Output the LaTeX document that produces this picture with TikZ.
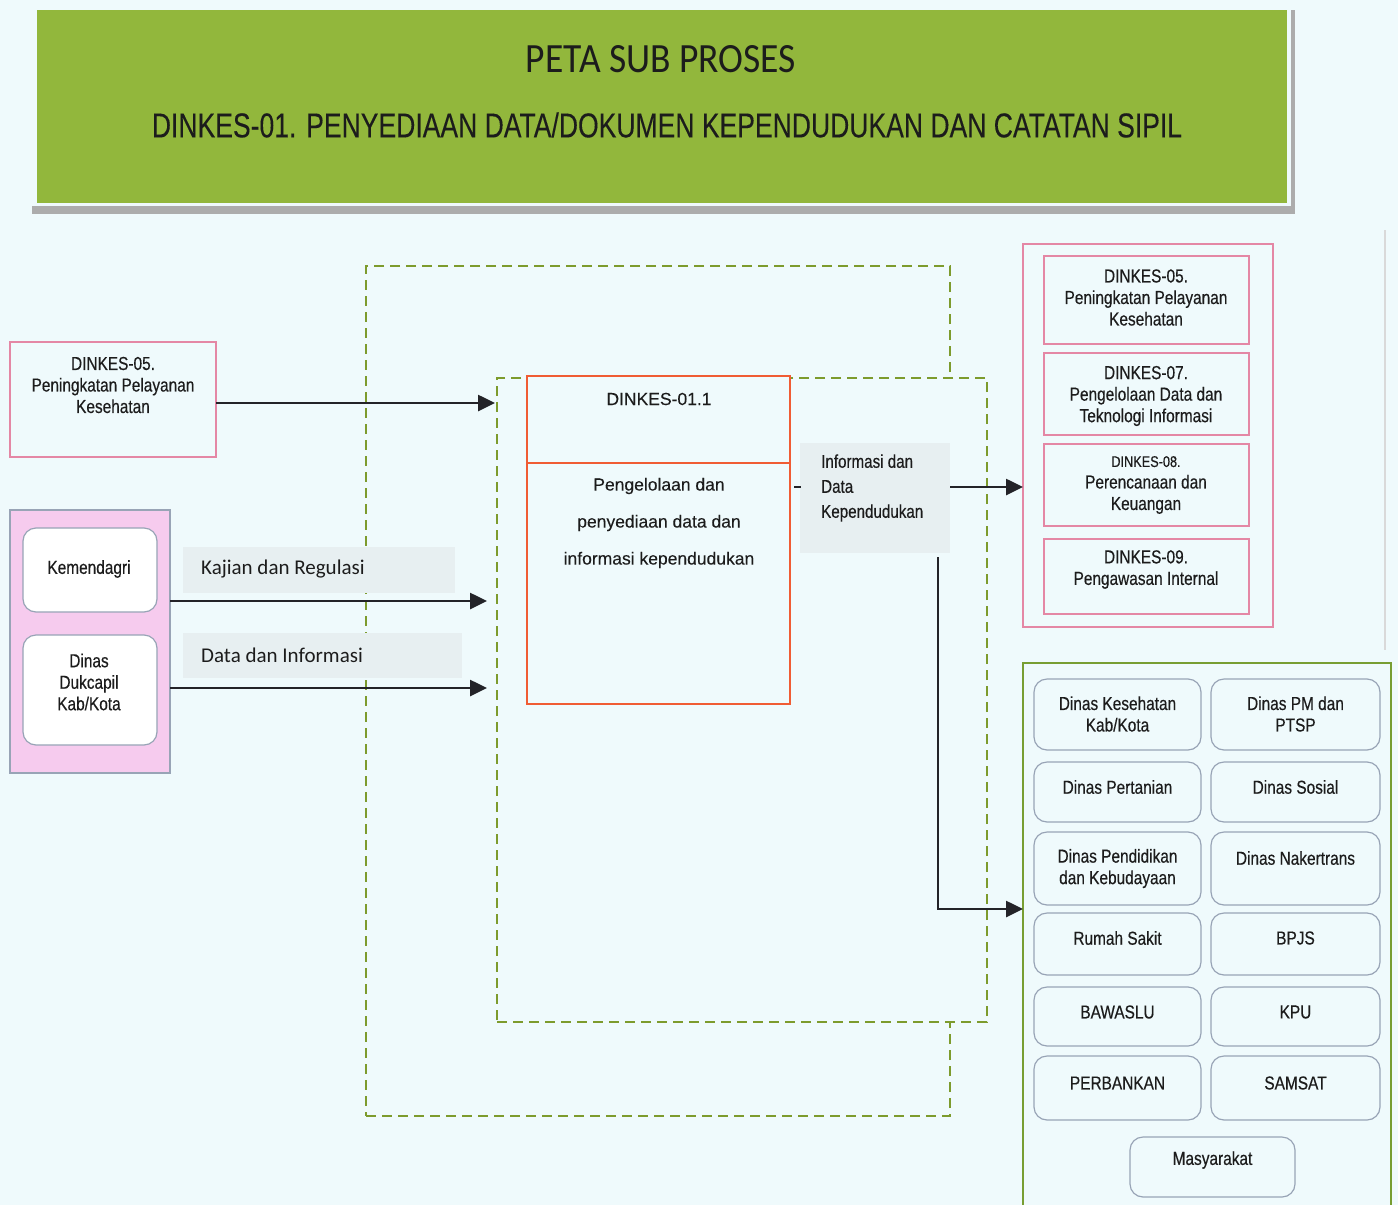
\documentclass[tikz,border=0pt]{standalone}
\usepackage{fontspec}
\setmainfont{Liberation Sans}
\newfontfamily\narf[FakeStretch=0.82,FakeBold=0.4]{Liberation Sans}
\newfontfamily\arlf[FakeBold=0.2]{Liberation Sans}
\newfontfamily\calf{Carlito}
\usetikzlibrary{arrows.meta}
\definecolor{bgc}{RGB}{239,250,252}
\definecolor{hdrg}{RGB}{146,183,60}
\definecolor{dashc}{RGB}{125,155,45}
\definecolor{orc}{RGB}{240,92,52}
\definecolor{pinkc}{RGB}{228,135,165}
\definecolor{pinkfill}{RGB}{246,203,238}
\definecolor{rbord}{RGB}{152,164,182}
\definecolor{grnc}{RGB}{120,158,50}
\definecolor{lblc}{RGB}{231,239,241}
\definecolor{arrc}{RGB}{35,35,40}
\definecolor{txtc}{RGB}{28,28,28}
\tikzset{
  boxbase/.style={inner sep=0pt, outer sep=0pt, anchor=north west},
  dashbox/.style={boxbase, draw=dashc, line width=1.4pt, dash pattern=on 10pt off 6pt},
  procbox/.style={boxbase, draw=orc, line width=1.8pt},
  pinkbox/.style={boxbase, draw=pinkc, line width=1.3pt},
  pinkgrp/.style={boxbase, draw=rbord, fill=pinkfill, line width=1.2pt},
  rbox/.style={boxbase, draw=rbord, line width=1.2pt, rounded corners=13pt},
  grngrp/.style={boxbase, draw=grnc, line width=1.6pt},
  lblbox/.style={boxbase, fill=lblc},
  ntxt/.style={inner sep=0pt, align=center, text=txtc, font=\narf\fontsize{18.8pt}{21.5pt}\selectfont},
  atxt/.style={inner sep=0pt, align=center, text=txtc, font=\arlf\fontsize{17.5pt}{37pt}\selectfont},
  ctxt/.style={inner sep=0pt, text=txtc, font=\calf\fontsize{21pt}{25pt}\selectfont},
  arr/.style={line width=2.6pt, draw=arrc, -{Triangle[length=17pt,width=16pt]}}
}
\begin{document}
\begin{tikzpicture}[x=1pt,y=-1pt]
\useasboundingbox (0,0) rectangle (1398,1205);
\clip (0,0) rectangle (1398,1205);
\fill[bgc] (0,0) rectangle (1398,1205);
\fill[gray!30] (1384,230) rectangle (1385.5,650);
% header
\fill[gray!65] (32,206) rectangle (1295,214);
\fill[gray!65] (1291,10) rectangle (1295,214);
\node[boxbase, fill=hdrg, minimum width=1250pt, minimum height=193pt] (header) at (37,10) {};
\node[inner sep=0pt, text=txtc] (title) at (661,59) {\calf\resizebox{270pt}{27pt}{PETA SUB PROSES}};
\node[inner sep=0pt, text=txtc] (subtitle) at (667,125) {\arlf\resizebox{1030pt}{25pt}{DINKES-01. PENYEDIAAN DATA/DOKUMEN KEPENDUDUKAN DAN CATATAN SIPIL}};
% dashed frames
\node[dashbox, minimum width=584pt, minimum height=850pt] (outer) at (366,266) {};
\node[dashbox, fill=bgc, minimum width=490pt, minimum height=644pt] (inner) at (497,378) {};
% process box
\node[procbox, fill=bgc, minimum width=263pt, minimum height=328pt] (proc) at (527,376) {};
\coordinate (divy) at (0,463);
\draw[orc, line width=1.8pt] (proc.west |- divy) -- (proc.east |- divy);
\node[atxt] (procid) at (659,399) {DINKES-01.1};
\node[atxt] (procname) at (659,523) {Pengelolaan dan\\penyediaan data dan\\informasi kependudukan};
% left source 05
\node[pinkbox, minimum width=206pt, minimum height=115pt] (src05) at (10,342) {};
\node[ntxt] (src05t) at (113,385) {DINKES-05.\\Peningkatan Pelayanan\\Kesehatan};
% left group
\node[pinkgrp, minimum width=160pt, minimum height=263pt] (srcgrp) at (10,510) {};
\node[rbox, fill=white, minimum width=134pt, minimum height=84pt] (kemen) at (23,528) {};
\node[ntxt] (kement) at (89,569) {Kemendagri};
\node[rbox, fill=white, minimum width=134pt, minimum height=110pt] (dukcapil) at (23,635) {};
\node[ntxt] (dukcapilt) at (89,682) {Dinas\\Dukcapil\\Kab/Kota};
% labels
\node[lblbox, minimum width=272pt, minimum height=46pt] (kajianbg) at (183,547) {};
\node[ctxt, anchor=west] (kajian) at (201,569) {Kajian dan Regulasi};
\node[lblbox, minimum width=279pt, minimum height=45pt] (databg) at (183,633) {};
\node[ctxt, anchor=west] (datainf) at (201,655) {Data dan Informasi};
\node[lblbox, minimum width=150pt, minimum height=110pt] (infobg) at (800,443) {};
\node[ntxt, align=left, anchor=west, font=\narf\fontsize{18.5pt}{25pt}\selectfont] (infot) at (821,488) {Informasi dan\\Data\\Kependudukan};
% arrows in
\coordinate (a05) at (495,403);
\draw[arr] (src05.east |- a05) -- (a05);
\coordinate (a1) at (487,601);
\draw[arr] (srcgrp.east |- a1) -- (a1);
\coordinate (a2) at (487,688);
\draw[arr] (srcgrp.east |- a2) -- (a2);
% stub
\coordinate (stubs) at (794,487);
\coordinate (stube) at (801,487);
\draw[arrc, line width=1.5pt] (stubs) -- (stube);
% right pink group
\node[pinkbox, minimum width=250pt, minimum height=383pt] (tgtpink) at (1023,244) {};
\node[pinkbox, minimum width=205pt, minimum height=88pt] (t05) at (1044,256) {};
\node[ntxt] (t05t) at (1146,297.5) {DINKES-05.\\Peningkatan Pelayanan\\Kesehatan};
\node[pinkbox, minimum width=205pt, minimum height=82pt] (t07) at (1044,353) {};
\node[ntxt] (t07t) at (1146,396) {DINKES-07.\\Pengelolaan Data dan\\Teknologi Informasi};
\node[pinkbox, minimum width=205pt, minimum height=82pt] (t08) at (1044,444) {};
\node[ntxt] (t08t) at (1146,485) {{\fontsize{15.5pt}{21.5pt}\selectfont DINKES-08.}\\Perencanaan dan\\Keuangan};
\node[pinkbox, minimum width=205pt, minimum height=75pt] (t09) at (1044,539) {};
\node[ntxt] (t09t) at (1146,569.5) {DINKES-09.\\Pengawasan Internal};
% right green group
\node[grngrp, minimum width=368pt, minimum height=580pt] (tgtgreen) at (1023,663) {};
\node[rbox, minimum width=167pt, minimum height=71pt] (g1a) at (1034,679) {};
\node[ntxt] (g1at) at (1117.5,714) {Dinas Kesehatan\\Kab/Kota};
\node[rbox, minimum width=169pt, minimum height=71pt] (g1b) at (1211,679) {};
\node[ntxt] (g1bt) at (1295.5,714) {Dinas PM dan\\PTSP};
\node[rbox, minimum width=167pt, minimum height=60pt] (g2a) at (1034,762) {};
\node[ntxt] (g2at) at (1117.5,787) {Dinas Pertanian};
\node[rbox, minimum width=169pt, minimum height=60pt] (g2b) at (1211,762) {};
\node[ntxt] (g2bt) at (1295.5,787) {Dinas Sosial};
\node[rbox, minimum width=167pt, minimum height=73pt] (g3a) at (1034,832) {};
\node[ntxt] (g3at) at (1117.5,868.5) {Dinas Pendidikan\\dan Kebudayaan};
\node[rbox, minimum width=169pt, minimum height=73pt] (g3b) at (1211,832) {};
\node[ntxt] (g3bt) at (1295.5,858) {Dinas Nakertrans};
\node[rbox, minimum width=167pt, minimum height=62pt] (g4a) at (1034,913) {};
\node[ntxt] (g4at) at (1117.5,938) {Rumah Sakit};
\node[rbox, minimum width=169pt, minimum height=62pt] (g4b) at (1211,913) {};
\node[ntxt] (g4bt) at (1295.5,938) {BPJS};
\node[rbox, minimum width=167pt, minimum height=59pt] (g5a) at (1034,987) {};
\node[ntxt] (g5at) at (1117.5,1012) {BAWASLU};
\node[rbox, minimum width=169pt, minimum height=59pt] (g5b) at (1211,987) {};
\node[ntxt] (g5bt) at (1295.5,1012) {KPU};
\node[rbox, minimum width=167pt, minimum height=64pt] (g6a) at (1034,1056) {};
\node[ntxt] (g6at) at (1117.5,1083) {PERBANKAN};
\node[rbox, minimum width=169pt, minimum height=64pt] (g6b) at (1211,1056) {};
\node[ntxt] (g6bt) at (1295.5,1083) {SAMSAT};
\node[rbox, minimum width=165pt, minimum height=60pt] (g7) at (1130,1137) {};
\node[ntxt] (g7t) at (1212.5,1160) {Masyarakat};
% arrows out
\coordinate (o1) at (0,487);
\draw[arr] (infobg.east |- o1) -- (tgtpink.west |- o1);
\coordinate (vstart) at (938,557);
\coordinate (o2) at (0,909);
\draw[arr] (vstart) |- (tgtgreen.west |- o2);
\end{tikzpicture}
\end{document}
